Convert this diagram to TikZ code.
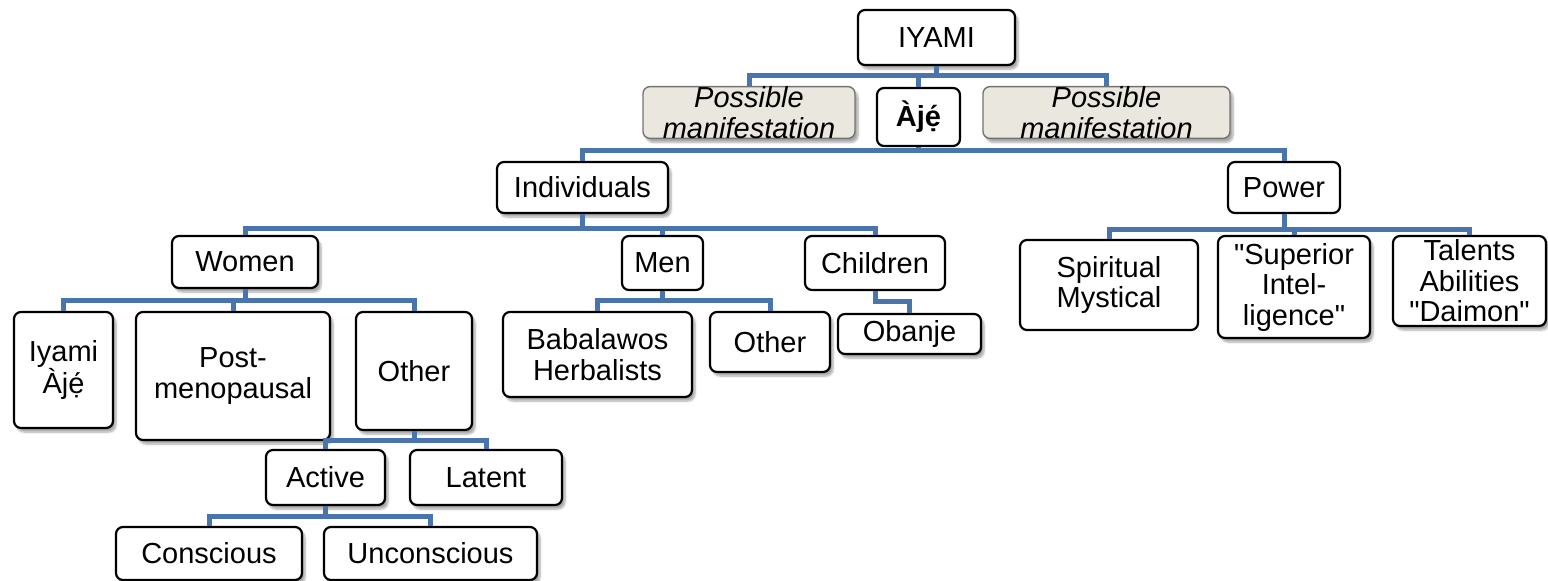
\documentclass[tikz,border=0pt]{standalone}
\usepackage{fontspec}
\setmainfont{Liberation Sans}[Ligatures=TeXOff]
\usetikzlibrary{shadows.blur}
\definecolor{wirec}{RGB}{74,117,172}
\definecolor{pmfill}{RGB}{234,232,222}
\tikzset{
 box/.style={draw=black, line width=2.2pt, rounded corners=7pt, fill=white, align=center, inner sep=0pt, font=\fontsize{29}{30.5}\selectfont},
 shad/.style={blur shadow={shadow xshift=3pt, shadow yshift=-4pt, shadow opacity=35, shadow blur steps=6}},
 pmbox/.style={box, draw=black!55, line width=1.4pt, fill=pmfill, font=\fontsize{29}{30.5}\selectfont\itshape},
 wire/.style={draw=wirec, line width=5pt},
 sz/.style 2 args={minimum width=#1pt, minimum height=#2pt},
}
\begin{document}
\begin{tikzpicture}[x=1pt,y=-1pt]
\useasboundingbox (0,0) rectangle (1548,581);
% level 0-1
\node[box,shad,sz={157}{55}] (iyami) at (936.5,37.5) {IYAMI};
\node[pmbox,shad,sz={212}{51}] (pm1) at (749,112.5) {Possible\\manifestation};
\node[box,sz={83}{58}] (aje) at (918.5,117) {\textbf{Àjẹ́}};
\node[pmbox,shad,sz={247}{51}] (pm2) at (1106.5,112.5) {Possible\\manifestation};
% level 2
\node[box,shad,sz={171}{51}] (indiv) at (582.5,187.5) {Individuals};
\node[box,sz={112}{51}] (power) at (1284,187.5) {Power};
% level 3
\node[box,shad,sz={146}{52}] (women) at (245,262) {Women};
\node[box,sz={81}{54}] (men) at (662.5,263) {Men};
\node[box,sz={140}{54}] (children) at (875,263) {Children};
\node[box,sz={178}{90}] (spirit) at (1109,285) {Spiritual\\Mystical};
\node[box,shad,sz={152}{102}] (superior) at (1294,287) {"Superior\\Intel-\\ligence"};
\node[box,shad,sz={153}{90}] (talents) at (1469.5,281) {Talents\\Abilities\\"Daimon"};
% level 4
\node[box,shad,sz={99}{116}] (iyamiaje) at (63.5,370) {Iyami\\Àjẹ́};
\node[box,shad,sz={194}{128}] (post) at (233,376) {Post-\\menopausal};
\node[box,shad,sz={116}{118}] (otherw) at (414,371) {Other};
\node[box,shad,sz={189}{85}] (baba) at (597.5,354.5) {Babalawos\\Herbalists};
\node[box,shad,sz={120}{60}] (otherm) at (770,342) {Other};
\node[box,shad,sz={143}{40}] (obanje) at (909.5,334) {Obanje};
% level 5-6
\node[box,shad,sz={119}{55}] (active) at (325.5,477.5) {Active};
\node[box,shad,sz={152}{55}] (latent) at (486,477.5) {Latent};
\node[box,shad,sz={186}{53}] (conscious) at (209,553.5) {Conscious};
\node[box,shad,sz={213}{53}] (uncon) at (430.5,553.5) {Unconscious};
% connectors
\coordinate (b1) at (iyami.south |- 0,75);
\draw[wire] (iyami.south) -- (b1);
\draw[wire] (b1) -| (pm1.north);
\draw[wire] (b1) -| (pm2.north);
\draw[wire] (b1) -| (aje.north);
\coordinate (b2) at (aje.south |- 0,150);
\draw[wire] (aje.south) -- (b2);
\draw[wire] (b2) -| (indiv.north);
\draw[wire] (b2) -| (power.north);
\coordinate (b3) at (indiv.south |- 0,228);
\draw[wire] (indiv.south) -- (b3);
\draw[wire] (b3) -| (women.north);
\draw[wire] (b3) -| (men.north);
\draw[wire] (b3) -| (children.north);
\coordinate (b4) at (power.south |- 0,229);
\draw[wire] (power.south) -- (b4);
\draw[wire] (b4) -| (spirit.north);
\draw[wire] (b4) -| (superior.north);
\draw[wire] (b4) -| (talents.north);
\coordinate (b5) at (women.south |- 0,300);
\draw[wire] (women.south) -- (b5);
\draw[wire] (b5) -| (iyamiaje.north);
\draw[wire] (b5) -| (post.north);
\draw[wire] (b5) -| (otherw.north);
\coordinate (b6) at (men.south |- 0,300);
\draw[wire] (men.south) -- (b6);
\draw[wire] (b6) -| (baba.north);
\draw[wire] (b6) -| (otherm.north);
\coordinate (b7) at (children.south |- 0,301);
\draw[wire] (children.south) -- (b7) -| (obanje.north);
\coordinate (b8) at (otherw.south |- 0,440);
\draw[wire] (otherw.south) -- (b8);
\draw[wire] (b8) -| (active.north);
\draw[wire] (b8) -| (latent.north);
\coordinate (b9) at (active.south |- 0,516);
\draw[wire] (active.south) -- (b9);
\draw[wire] (b9) -| (conscious.north);
\draw[wire] (b9) -| (uncon.north);
\end{tikzpicture}
\end{document}
